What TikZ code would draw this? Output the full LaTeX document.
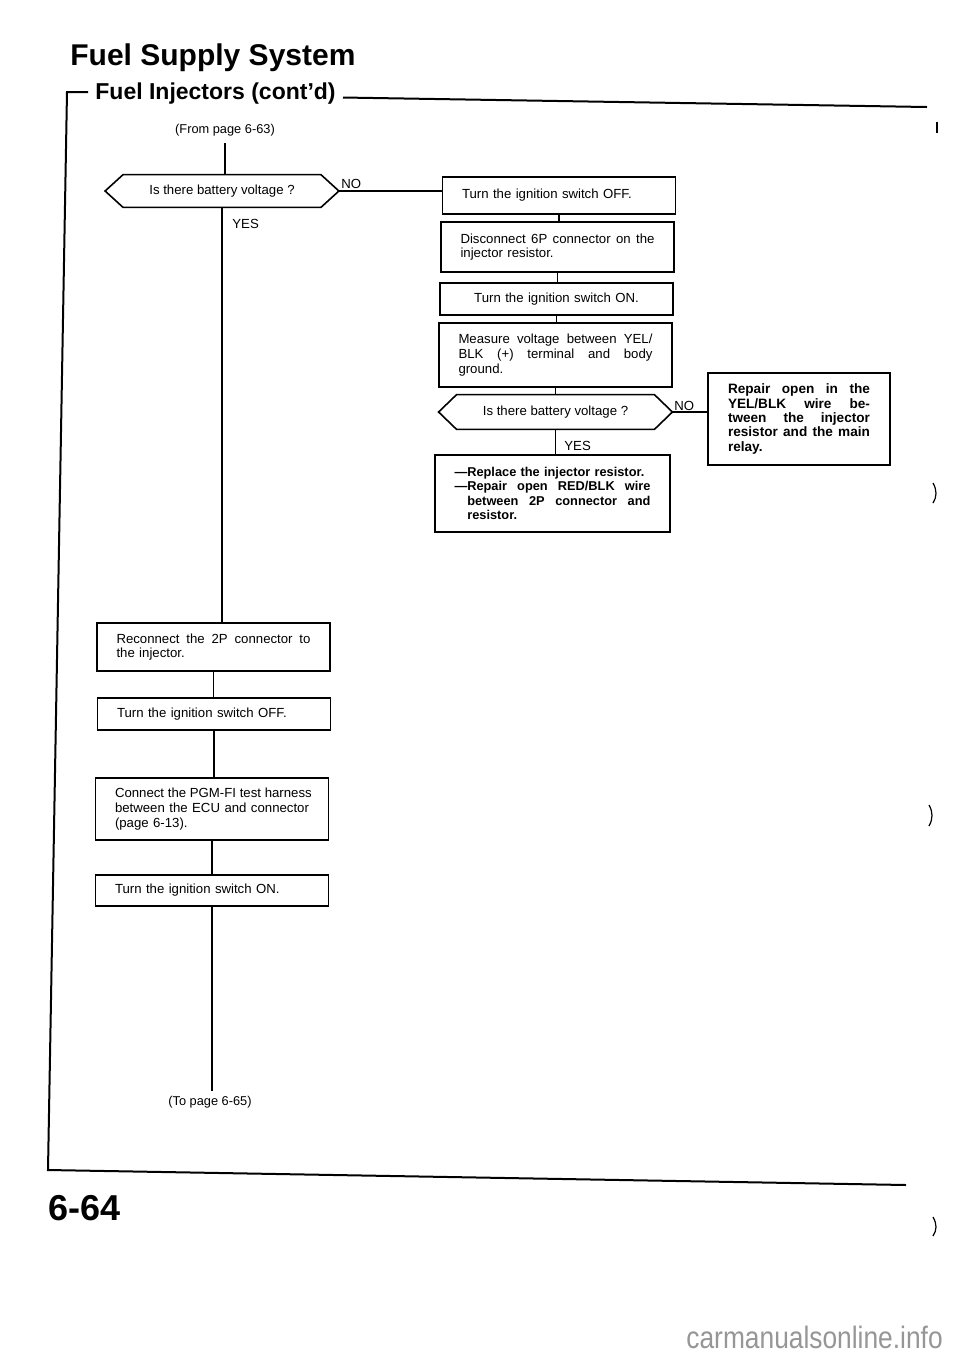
\documentclass[tikz,border=0pt]{standalone}
\usepackage{fontspec}
\setmainfont{Liberation Sans}
\definecolor{wmgray}{RGB}{150,150,150}
\newcommand\boxfont{\fontsize{6.6}{7.3}\selectfont}
\newcommand\boldboxfont{\fontsize{6.4}{7.2}\selectfont\bfseries}
\newcommand\bigboldfont{\fontsize{6.8}{7.2}\selectfont\bfseries}
\newcommand\jl[2]{{\spaceskip=0.28em plus 1fil\xspaceskip=0.28em plus 1fil\makebox[#1][s]{#2}}\\}
\newcommand\hexa[2]{\draw[qline] (#1.west) -- ([xshift=#2]#1.north west) -- ([xshift=-#2]#1.north east) -- (#1.east) -- ([xshift=-#2]#1.south east) -- ([xshift=#2]#1.south west) -- cycle;}
\begin{document}
\begin{tikzpicture}[x=0.5pt,y=-0.5pt,
  box/.style={draw,line width=0.8pt,rectangle,inner xsep=0pt,inner ysep=1pt,text width=97pt,align=left,font=\boxfont,minimum width=116.5pt},
  qtext/.style={rectangle,inner sep=0pt,minimum width=116.5pt,font=\boxfont},
  qline/.style={line width=0.8pt,line join=miter},
  conn/.style={line width=0.7pt},
  lbl/.style={anchor=base west,inner sep=0pt,font=\boxfont},
  small/.style={anchor=base,inner sep=0pt,font=\fontsize{6.4}{7.2}\selectfont},
  framel/.style={line width=1pt},
  scanmark/.style={line width=0.6pt}]
\useasboundingbox (0,0) rectangle (960,1357);

% headings
\node[anchor=base west,inner sep=0pt,font=\fontsize{15}{18}\selectfont\bfseries] (title) at (70,65) {Fuel Supply System};
\node[anchor=base west,inner sep=0pt,font=\fontsize{11.5}{14}\selectfont\bfseries] (sub) at (95,99) {Fuel Injectors (cont’d)};

% frame
\draw[framel] (88,92) -- (67,92) -- (48,1170) -- (906,1185);
\draw[framel] (343,97.5) -- (927,107);

% left column
\node[small] (fromp) at (225,133) {(From page 6-63)};
\node[qtext,minimum height=16pt] (q1) at (222,191) {Is there battery voltage ?};
\hexa{q1}{9pt}
\node[box,minimum height=24pt] (c1) at (213.5,647) {\jl{97pt}{Reconnect the 2P connector to}the injector.};
\node[box,minimum height=16pt] (c2) at (214,714) {Turn the ignition switch OFF.};
\node[box,minimum height=31pt] (c3) at (212,809) {\jl{97pt}{Connect the PGM-FI test harness}\jl{97pt}{between the ECU and connector}(page 6-13).};
\node[box,minimum height=15.5pt] (c4) at (212,890.5) {Turn the ignition switch ON.};
\node[small] (topg) at (210,1105) {(To page 6-65)};

% right column
\node[box,minimum height=18.5pt] (b1) at (559,195.5) {Turn the ignition switch OFF.};
\node[box,minimum height=25pt] (b2) at (557.5,247) {\jl{97pt}{Disconnect 6P connector on the}injector resistor.};
\node[box,align=center,minimum height=16pt] (b3) at (556.5,299) {Turn the ignition switch ON.};
\node[box,minimum height=32pt] (b4) at (555.5,355) {\jl{97pt}{Measure voltage between YEL/}\jl{97pt}{BLK (+) terminal and body}ground.};
\node[qtext,minimum height=17pt] (q2) at (555.5,412) {Is there battery voltage ?};
\hexa{q2}{9pt}
\node[box,text width=98pt,minimum width=117.5pt,minimum height=38.5pt,font=\boldboxfont] (b5) at (552.5,493.5) {—Replace the injector resistor.\\\jl{98pt}{—Repair open RED/BLK wire}\hspace*{6.4pt}\jl{91.6pt}{between 2P connector and}\hspace*{6.4pt}resistor.};
\node[box,text width=71pt,minimum width=91pt,minimum height=46pt,font=\bigboldfont] (r1) at (799,419) {\jl{71pt}{Repair open in the}\jl{71pt}{YEL/BLK wire be-}\jl{71pt}{tween the injector}\jl{71pt}{resistor and the main}relay.};

% labels
\node[lbl] (no1) at (341,188) {NO};
\node[lbl] (yes1) at (232,228) {YES};
\node[lbl] (no2) at (674,410) {NO};
\node[lbl] (yes2) at (564,450) {YES};

% connectors
\coordinate (fstart) at ([yshift=-3.5pt]fromp.south);
\coordinate (tend) at ([yshift=2pt]topg.north);
\draw[conn] (fstart) -- (fstart |- q1.north);
\draw[conn] (q1.east) -- (q1.east -| b1.west);
\draw[conn] (q1.south) -- (q1.south |- c1.north);
\draw[conn] (c1.south) -- (c1.south |- c2.north);
\draw[conn] (c2.south) -- (c2.south |- c3.north);
\draw[conn] (c3.south) -- (c3.south |- c4.north);
\draw[conn] (c4.south) -- (c4.south |- tend);
\draw[conn] (b1.south) -- (b1.south |- b2.north);
\draw[conn] (b2.south) -- (b2.south |- b3.north);
\draw[conn] (b3.south) -- (b3.south |- b4.north);
\draw[conn] (b4.south) -- (b4.south |- q2.north);
\draw[conn] (q2.south) -- (q2.south |- b5.north);
\draw[conn] (q2.east) -- (q2.east -| r1.west);

% page number
\node[anchor=base west,inner sep=0pt,font=\fontsize{18}{20}\selectfont\bfseries] (pg) at (48,1220) {6-64};

% scan marks at the right edge
\draw[scanmark] (937,122) -- (937,133);
\draw[scanmark] (933,483) .. controls (937,490) and (937,497) .. (933,503);
\draw[scanmark] (929,805) .. controls (933,812) and (933,819) .. (929,826);
\draw[scanmark] (933,1217) .. controls (937,1224) and (937,1230) .. (933,1236);

% watermark
\node[anchor=base west,inner sep=0pt,text=wmgray,font=\fontsize{15.5}{18}\selectfont] (wm) at (686,1348) {\scalebox{0.85}[1]{carmanualsonline.info}};
\end{tikzpicture}
\end{document}
